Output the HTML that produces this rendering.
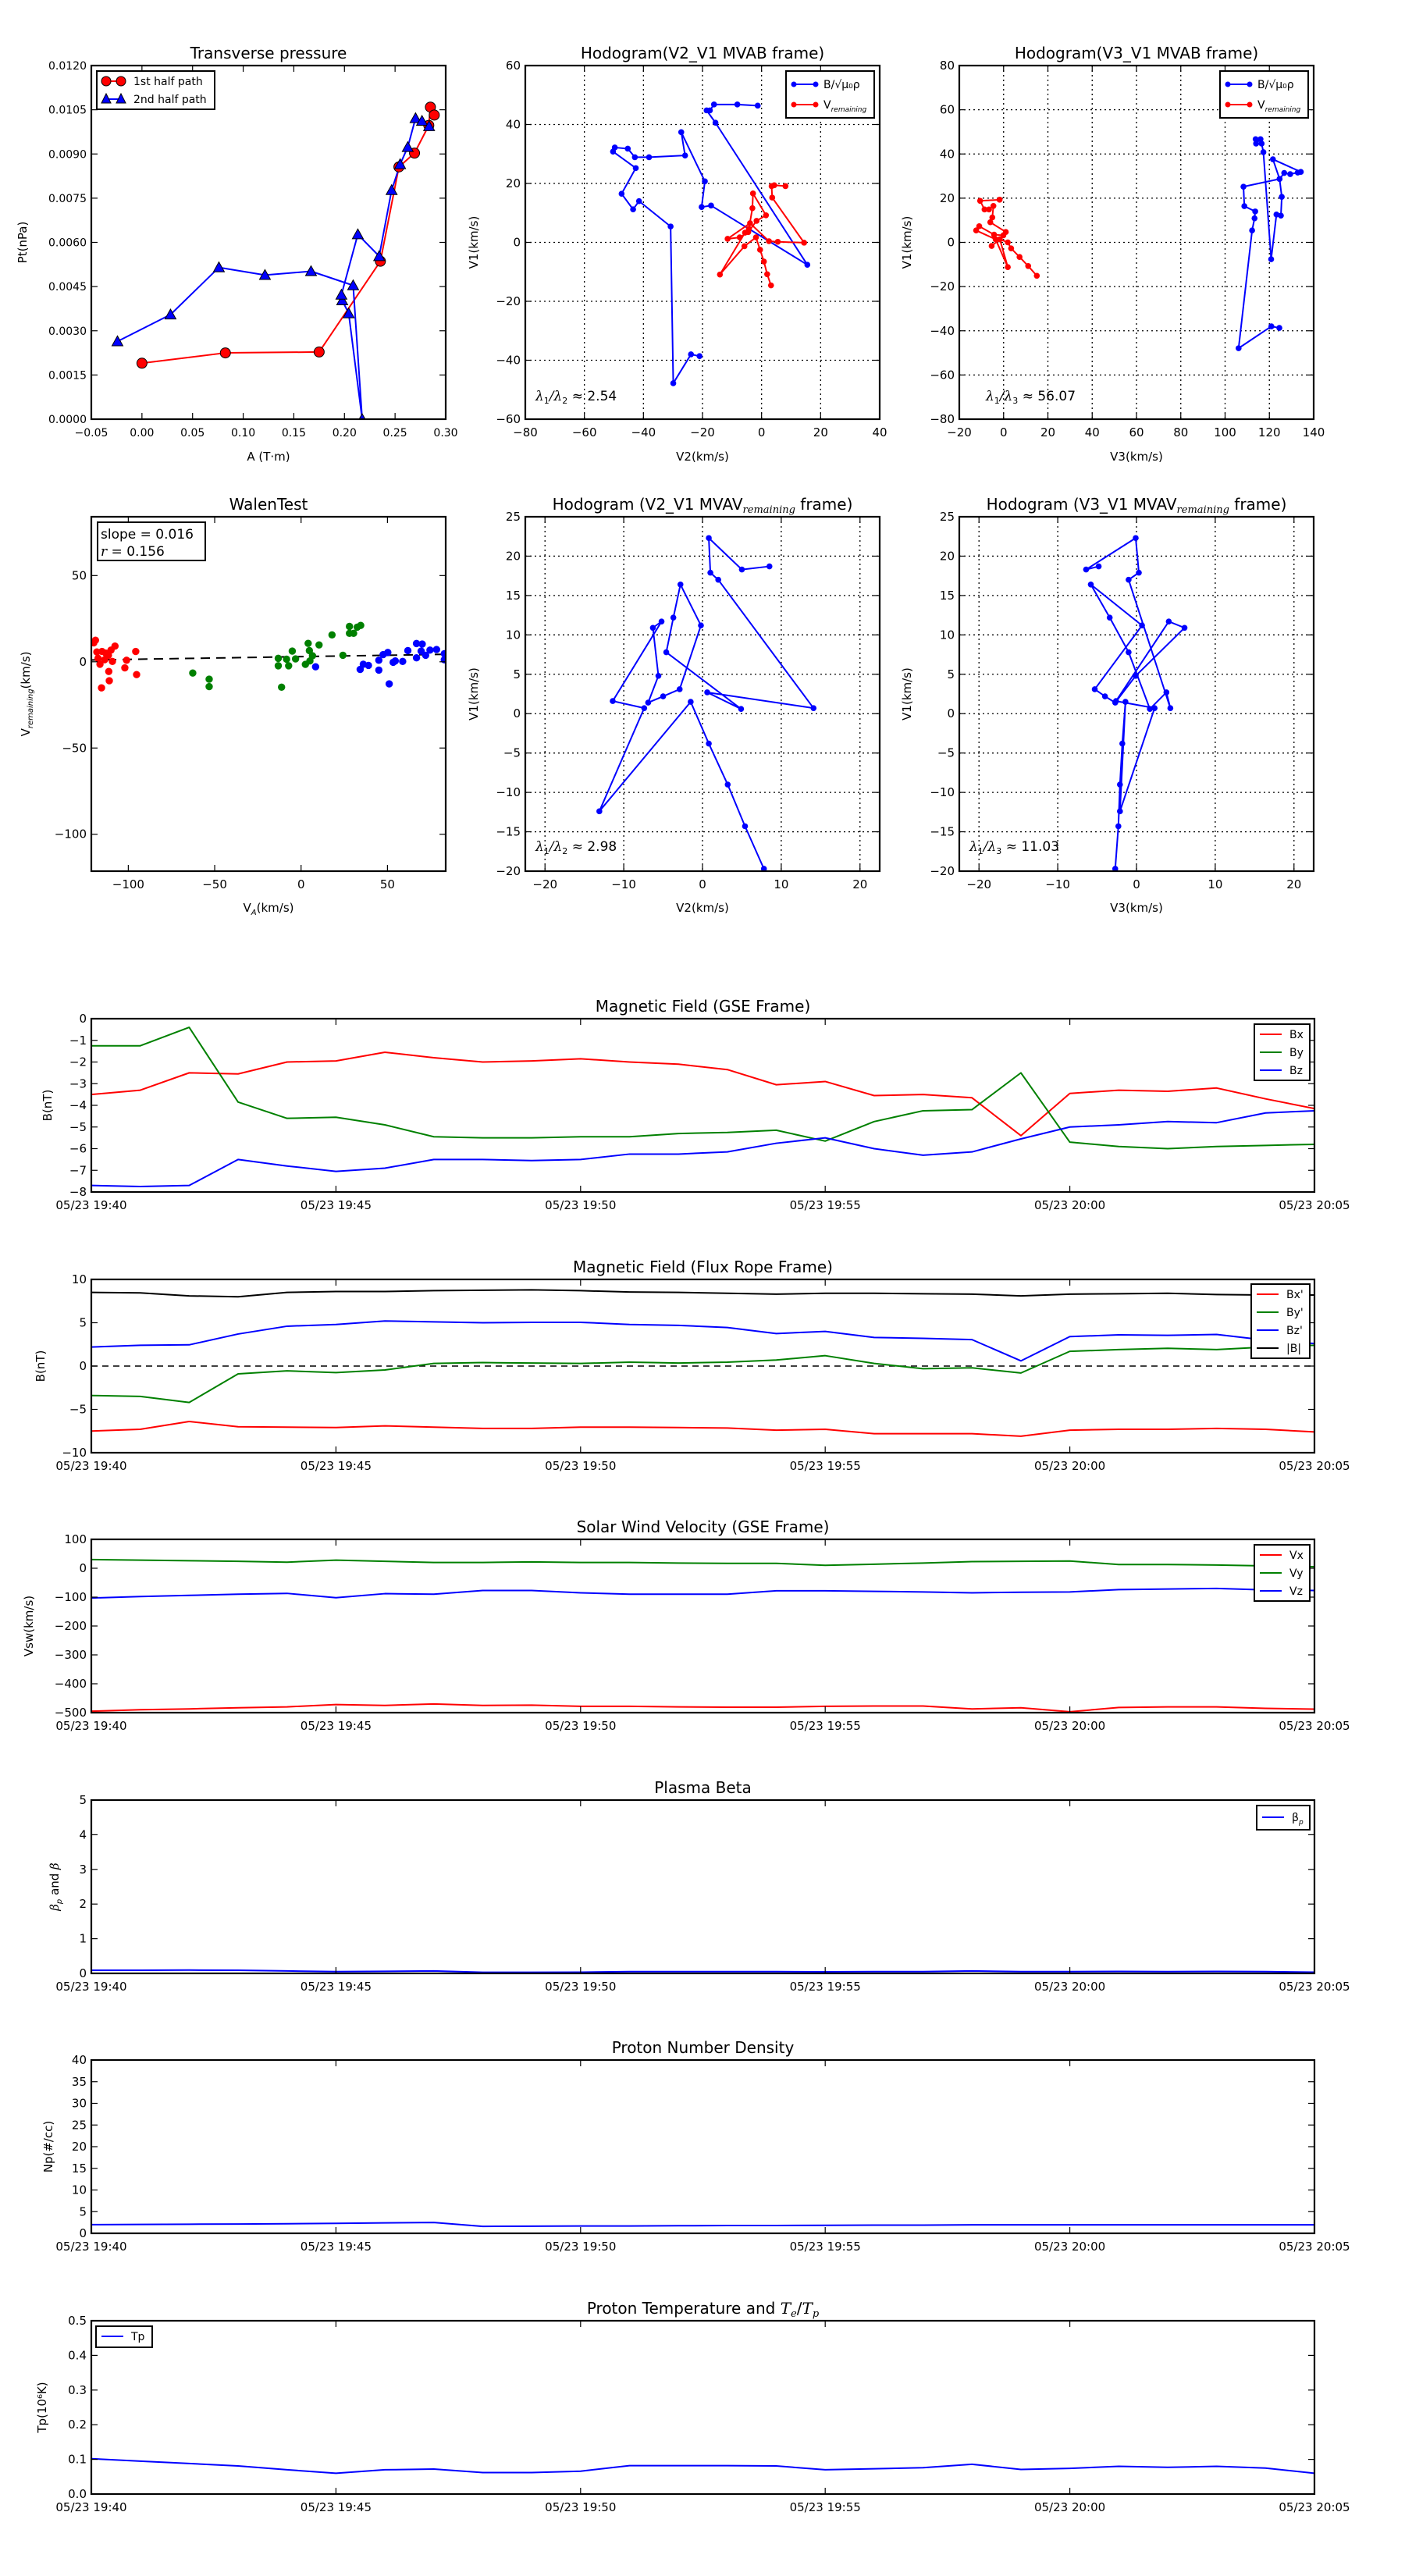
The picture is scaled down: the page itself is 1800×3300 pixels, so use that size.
<!DOCTYPE html>
<html><head><meta charset="utf-8"><title>Flux rope analysis</title>
<style>
html,body{margin:0;padding:0;background:#fff;}
svg{display:block;font-family:"DejaVu Sans","Liberation Sans",sans-serif;}
</style></head>
<body>
<svg id="fig" width="1800" height="3300" viewBox="0 0 1800 3300" xmlns="http://www.w3.org/2000/svg">
<rect x="0" y="0" width="1800" height="3300" fill="#fff"/>
<defs id="defs"></defs>
</svg>
<script>
// ---------- data: Transverse pressure ----------
const ptRedA=[0,0.0824,0.175,0.2355,0.2538,0.2692,0.2833,0.2849,0.2887];
const ptRedP=[0.0019,0.00225,0.00228,0.00536,0.00856,0.00903,0.00997,0.01059,0.01032];
const ptBlueA=[-0.0242,0.0282,0.076,0.1215,0.167,0.2086,0.2175,0.2042,0.1978,0.197,0.2132,0.2343,0.2466,0.255,0.2625,0.2702,0.2766,0.2836];
const ptBlueP=[0.00264,0.00355,0.00515,0.00489,0.00502,0.00454,0,0.00359,0.00403,0.00422,0.00627,0.00553,0.00777,0.00865,0.00923,0.01021,0.01012,0.00994];
// ---------- data: Hodogram MVAB ----------
const h1BlueV2=[-1.3,-8.2,-16.1,-17.5,-18.6,-15.6,15.5,-17.1,-20.3,-19.2,-27.2,-25.9,-38.1,-42.9,-45.3,-49.7,-50.3,-42.6,-47.4,-43.5,-41.5,-30.8,-29.9,-23.9,-21.0];
const h1BlueV1=[46.4,46.8,46.8,44.8,44.8,40.6,-7.6,12.5,12.0,20.7,37.4,29.5,28.9,28.9,31.8,32.2,30.8,25.2,16.5,11.2,14.0,5.4,-47.8,-38.0,-38.6];
const h1RedV2=[8.1,4.3,3.4,3.6,14.4,5.5,2.5,-3.9,-11.5,-7.4,-4.5,-1.7,1.5,-2.9,-3.1,-4.3,-5.6,-14.1,-5.8,-1.9,-0.5,0.8,1.9,3.2];
const h1RedV1=[19.1,19.4,19.1,15.2,-0.1,0.2,0.4,6.5,1.2,1.7,3.5,7.3,9.2,16.6,11.6,4.6,3.3,-10.9,-1.3,1.7,-2.5,-6.5,-10.8,-14.6];
const h2BlueV3=[113.8,116.0,114.0,116.5,117.3,120.8,123.2,125.2,125.6,124.6,121.6,134.2,132.8,129.4,126.7,124.6,108.3,108.7,113.6,113.3,112.2,106.1,120.9,124.5];
const h2BlueV1=[46.7,46.7,44.7,44.7,40.8,-7.6,12.6,12.1,20.6,28.7,37.6,31.9,31.6,30.9,31.4,28.7,25.2,16.4,14.0,10.9,5.4,-47.9,-38.0,-38.7];
const h2RedV3=[-1.8,-10.6,-8.6,-6.6,-4.6,-5.1,-6.0,1.0,-0.1,-4.3,-11.0,-12.4,-3.6,1.9,-1.7,-5.4,-1.7,1.9,3.4,7.2,11.1,15.0];
const h2RedV1=[19.3,18.8,14.9,14.9,16.5,11.3,9.1,4.7,3.2,3.5,7.3,5.4,1.4,-11.2,1.4,-1.6,1.4,0,-2.7,-6.6,-10.7,-15.1];
// ---------- data: Walen test ----------
const walenRedX=[-119,-120,-118.2,-115.2,-116.4,-113.7,-111.5,-110,-107.7,-109.2,-111.3,-111,-115.5,-101,-102,-95.7,-95.2,-113,-117.5];
const walenRedY=[12.5,11,5.7,6,-1.4,1.2,3.8,6.8,9.1,0.2,-5.6,-11,-15.1,0.9,-3.5,6,-7.4,5,2];
const walenGreenX=[-62.7,-53.2,-53.2,-11.3,-13.2,-13.2,-7.2,-5.1,-3.2,-8.4,2.5,4.1,4.8,6.6,10.4,17.9,24.2,28,28,30.4,32.5,34.5,5.1];
const walenGreenY=[-6.5,-10.1,-14.4,-14.7,2,-2.3,-2.3,6.2,1.7,1.5,-1.5,10.7,6.5,3.5,9.8,15.6,3.8,20.5,16.5,16.5,20.1,21.1,0.5];
const walenBlueX=[8.4,34.2,36,39,45,45,47.5,50.2,51,53.3,54.5,58.8,61.8,66.8,70.1,66.8,69.5,72.1,74.6,78.4,82.9,82.9];
const walenBlueY=[-2.9,-4.4,-1.4,-2.1,0.9,-4.8,4.2,5.4,-12.8,-0.3,0.5,0.2,6.5,10.6,10.3,2.3,6.2,3.8,6.8,7.1,4.7,1.2];
const walenSlope=0.016;
const walenIntercept=3.0;
// ---------- data: Hodogram MVAV ----------
const h3V1=[18.7,18.3,22.3,17.9,17.0,0.7,2.7,0.6,7.8,12.2,16.4,11.2,3.1,2.2,1.4,4.8,10.9,11.7,1.6,0.7,-12.4,1.5,-3.8,-9.0,-14.3,-19.7];
const h3V2=[8.5,5.0,0.8,1.0,2.0,14.1,0.6,4.9,-4.6,-3.7,-2.8,-0.2,-2.9,-5.0,-6.9,-5.6,-6.3,-5.2,-11.4,-7.4,-13.1,-1.5,0.8,3.2,5.4,7.8];
const h3V3=[-4.8,-6.4,-0.1,0.3,-1.0,4.3,3.8,1.7,-1.0,-3.4,-5.8,0.7,-5.3,-4.0,-2.7,-0.1,6.1,4.1,-2.6,2.3,-2.1,-1.4,-1.8,-2.1,-2.3,-2.7];
// ---------- data: time series (minutes after 19:40) ----------
const minutes=[0,1,2,3,4,5,6,7,8,9,10,11,12,13,14,15,16,17,18,19,20,21,22,23,24,25];
const timeTickMin=[0,5,10,15,20,25];
const timeTickLabels=["05/23 19:40","05/23 19:45","05/23 19:50","05/23 19:55","05/23 20:00","05/23 20:05"];
const gseBx=[-3.5,-3.3,-2.5,-2.55,-2.0,-1.95,-1.55,-1.8,-2.0,-1.95,-1.85,-2.0,-2.1,-2.35,-3.05,-2.9,-3.55,-3.5,-3.65,-5.4,-3.45,-3.3,-3.35,-3.2,-3.7,-4.15];
const gseBy=[-1.25,-1.25,-0.4,-3.85,-4.6,-4.55,-4.9,-5.45,-5.5,-5.5,-5.45,-5.45,-5.3,-5.25,-5.15,-5.65,-4.75,-4.25,-4.2,-2.5,-5.7,-5.9,-6.0,-5.9,-5.85,-5.8];
const gseBz=[-7.7,-7.75,-7.7,-6.5,-6.8,-7.05,-6.9,-6.5,-6.5,-6.55,-6.5,-6.25,-6.25,-6.15,-5.75,-5.5,-6.0,-6.3,-6.15,-5.55,-5.0,-4.9,-4.75,-4.8,-4.35,-4.25];
const frBx=[-7.5,-7.3,-6.4,-7.0,-7.05,-7.1,-6.9,-7.05,-7.2,-7.2,-7.05,-7.05,-7.1,-7.15,-7.4,-7.3,-7.8,-7.8,-7.8,-8.1,-7.4,-7.3,-7.3,-7.2,-7.3,-7.6];
const frBy=[-3.4,-3.5,-4.2,-0.9,-0.55,-0.75,-0.45,0.3,0.4,0.35,0.3,0.45,0.35,0.45,0.7,1.2,0.3,-0.3,-0.2,-0.8,1.7,1.9,2.05,1.9,2.2,2.4];
const frBz=[2.2,2.4,2.45,3.7,4.6,4.8,5.2,5.1,5.0,5.05,5.05,4.8,4.7,4.45,3.75,4.0,3.3,3.2,3.05,0.6,3.4,3.6,3.55,3.65,3.0,2.6];
const frBt=[8.5,8.45,8.1,8.0,8.5,8.6,8.6,8.7,8.75,8.8,8.7,8.55,8.5,8.4,8.3,8.4,8.4,8.35,8.3,8.1,8.3,8.35,8.4,8.25,8.2,8.2];
const vswVx=[-495,-490,-487,-483,-480,-472,-475,-470,-475,-474,-478,-478,-480,-481,-481,-478,-477,-477,-487,-483,-497,-482,-480,-480,-485,-488];
const vswVy=[30,28,26,24,21,28,24,20,20,22,20,20,18,17,17,10,14,18,23,24,25,13,13,11,8,5];
const vswVz=[-103,-98,-94,-90,-87,-102,-88,-90,-77,-77,-85,-90,-90,-90,-78,-78,-80,-82,-85,-83,-82,-74,-72,-70,-75,-77];
const betaP=[0.09,0.09,0.095,0.09,0.07,0.05,0.06,0.07,0.03,0.03,0.035,0.05,0.05,0.05,0.05,0.045,0.05,0.05,0.07,0.05,0.05,0.055,0.05,0.055,0.05,0.035];
const densNp=[2.0,2.05,2.1,2.15,2.2,2.3,2.4,2.5,1.6,1.65,1.7,1.7,1.75,1.8,1.8,1.85,1.9,1.9,1.95,1.95,1.95,1.95,1.95,1.95,1.95,1.95];
const tempTp=[0.102,0.095,0.088,0.081,0.07,0.06,0.07,0.072,0.062,0.062,0.066,0.082,0.082,0.082,0.081,0.07,0.073,0.076,0.086,0.071,0.074,0.08,0.077,0.08,0.075,0.06];

// ---------- helpers ----------
const NS='http://www.w3.org/2000/svg';
const svg=document.getElementById('fig');
const defs=document.getElementById('defs');
function mk(tag,attrs,parent){const e=document.createElementNS(NS,tag);for(const k in attrs)e.setAttribute(k,attrs[k]);(parent||svg).appendChild(e);return e;}
function fmt(s){return String(s).replace(/-/g,'\u2212');}
function txt(parent,x,y,s,size,anchor,extra){const t=mk('text',Object.assign({x:x,y:y,'font-size':size,'text-anchor':anchor||'middle',fill:'#000'},extra||{}),parent);t.textContent=s;return t;}
function seq(a,b,st){const r=[];for(let v=a;v<=b+1e-9;v+=st)r.push(+v.toFixed(6));return r;}

function makeAxes(o){
  const A=Object.assign({},o);
  A.sx=v=>o.x+(v-o.xmin)/(o.xmax-o.xmin)*o.w;
  A.sy=v=>o.y+o.h-(v-o.ymin)/(o.ymax-o.ymin)*o.h;
  A.g=mk('g',{});
  
  
  mk('rect',{x:o.x,y:o.y,width:o.w,height:o.h,fill:'#fff'},A.g);
  if(o.grid){
    const gg=mk('g',{stroke:'#000','stroke-width':1.3,'stroke-dasharray':'2,4'},A.g);
    
    
    o.xticks.forEach(v=>{const X=A.sx(v);mk('line',{x1:X,x2:X,y1:o.y,y2:o.y+o.h},gg);});
    o.yticks.forEach(v=>{const Y=A.sy(v);mk('line',{x1:o.x,x2:o.x+o.w,y1:Y,y2:Y},gg);});
  }
  const cp=mk('clipPath',{id:'clip-'+o.name},defs);
  mk('rect',{x:o.x,y:o.y,width:o.w,height:o.h},cp);
  A.data=mk('g',{'clip-path':'url(#clip-'+o.name+')'},A.g);
  return A;
}
function finishAxes(A){
  const g=mk('g',{},A.g);
  mk('rect',{x:A.x,y:A.y,width:A.w,height:A.h,fill:'none',stroke:'#000','stroke-width':2.2},g);
  const tl=8;
  const tk=mk('g',{stroke:'#000','stroke-width':1.2},g);
  A.xticks.forEach(v=>{const X=A.sx(v);mk('line',{x1:X,x2:X,y1:A.y+A.h,y2:A.y+A.h-tl},tk);mk('line',{x1:X,x2:X,y1:A.y,y2:A.y+tl},tk);});
  A.yticks.forEach(v=>{const Y=A.sy(v);mk('line',{x1:A.x,x2:A.x+tl,y1:Y,y2:Y},tk);mk('line',{x1:A.x+A.w,x2:A.x+A.w-tl,y1:Y,y2:Y},tk);});
  A.xticks.forEach((v,i)=>{const t=txt(g,A.sx(v),A.y+A.h+22,fmt(A.xlabels[i]),A.tfs||15,'middle');
    
    });
  A.yticks.forEach((v,i)=>{const t=txt(g,A.x-6,A.sy(v)+5,fmt(A.ylabels[i]),A.tfs||15,'end');
    
    });
  return g;
}
function title(A,parts,dy){
  const t=mk('text',{x:A.x+A.w/2,y:A.y-(dy||9),'font-size':20,'text-anchor':'middle'},A.g);
  
  
  parts.forEach(p=>{const s=mk('tspan',p.it?{'font-style':'italic','font-family':'"DejaVu Serif","Liberation Serif",serif','font-size':p.sub?13:20,dy:p.dy||0}:{dy:p.dy||0},t);s.textContent=p.s;});
  return t;
}
function xlabel(A,parts,y){
  const t=mk('text',{x:A.x+A.w/2,y:y,'font-size':15,'text-anchor':'middle'},A.g);
  
  
  parts.forEach(p=>{const s=mk('tspan',p.sub?{'font-size':10,'font-style':'italic',dy:p.dy||0}:{dy:p.dy||0},t);s.textContent=p.s;});
}
function ylabel(A,parts,x){
  const cy=A.y+A.h/2;
  const t=mk('text',{x:x,y:cy,'font-size':15,'text-anchor':'middle',transform:'rotate(-90 '+x+' '+cy+')'},A.g);
  
  
  parts.forEach(p=>{const s=mk('tspan',p.sub?{'font-size':10,'font-style':'italic',dy:p.dy||0}:(p.it?{'font-style':'italic','font-family':'"DejaVu Serif",serif',dy:p.dy||0}:{dy:p.dy||0}),t);s.textContent=p.s;});
}
function polyline(A,xs,ys,color,w,name){
  let d='';xs.forEach((v,i)=>{d+=(i?'L':'M')+A.sx(v).toFixed(2)+','+A.sy(ys[i]).toFixed(2);});
  const p=mk('path',{d:d,fill:'none',stroke:color,'stroke-width':w||2,'stroke-linejoin':'round'},A.data);
  
  
  return p;
}
function dots(A,xs,ys,color,r,stroke,name){
  const g=mk('g',{},A.data);
  
  
  xs.forEach((v,i)=>{const c=mk('circle',{cx:A.sx(v),cy:A.sy(ys[i]),r:r,fill:color,stroke:stroke||'none','stroke-width':1},g);
    
    });
}
function tris(A,xs,ys,color,s,name){
  const g=mk('g',{},A.data);
  
  
  xs.forEach((v,i)=>{const X=A.sx(v),Y=A.sy(ys[i]);
    const p=mk('polygon',{points:`${X},${Y-s} ${X-s},${Y+s*0.8} ${X+s},${Y+s*0.8}`,fill:color,stroke:'#000','stroke-width':1},g);
    
    });
}
function legendBox(parent,x,y,w,h,name){
  const g=mk('g',{},parent);
  
  
  mk('rect',{x:x,y:y,width:w,height:h,fill:'#fff',stroke:'#000','stroke-width':2},g);
  return g;
}
function legEntry(g,x,y,color,label,marker){
  const e=mk('g',{},g);
  
  
  mk('line',{x1:x,x2:x+28,y1:y,y2:y,stroke:color,'stroke-width':2},e);
  if(marker==='dot'){mk('circle',{cx:x,cy:y,r:3.5,fill:color},e);mk('circle',{cx:x+28,cy:y,r:3.5,fill:color},e);}
  const t=mk('text',{x:x+38,y:y+5,'font-size':14},e);
  label.forEach(p=>{const s=mk('tspan',p.sub?{'font-size':9,'font-style':'italic',dy:p.dy||0}:{dy:p.dy||0},t);s.textContent=p.s;});
  return e;
}

// ---------- Panel 1: Transverse pressure ----------
(function(){
  const xt=seq(-0.05,0.30,0.05), yt=seq(0,0.012,0.0015);
  const A=makeAxes({name:'transverse-pressure-chart',x:117,y:84,w:454,h:453,xmin:-0.05,xmax:0.30,ymin:0,ymax:0.012,
    xticks:xt,yticks:yt,xlabels:xt.map(v=>v.toFixed(2)),ylabels:yt.map(v=>v.toFixed(4)),grid:false,tfs:14});
  polyline(A,ptRedA,ptRedP,'#ff0000',2,'first-half-path-line');
  polyline(A,ptBlueA,ptBlueP,'#0000ff',2,'second-half-path-line');
  dots(A,ptRedA,ptRedP,'#ff0000',6.5,'#000','first-half-path-markers');
  tris(A,ptBlueA,ptBlueP,'#0000ff',7,'second-half-path-markers');
  finishAxes(A);
  title(A,[{s:'Transverse pressure'}]);
  xlabel(A,[{s:'A (T\u00b7m)'}],590);
  ylabel(A,[{s:'Pt(nPa)'}],34);
  const lg=legendBox(A.g,124,91,151,49,'pressure-legend');
  const e1=mk('g',{},lg);
  
  
  mk('line',{x1:136,x2:155,y1:104,y2:104,stroke:'#f00','stroke-width':2},e1);
  mk('circle',{cx:136,cy:104,r:6,fill:'#f00',stroke:'#000'},e1);mk('circle',{cx:155,cy:104,r:6,fill:'#f00',stroke:'#000'},e1);
  txt(e1,171,109,'1st half path',14,'start');
  const e2=mk('g',{},lg);
  
  
  mk('line',{x1:136,x2:155,y1:127,y2:127,stroke:'#00f','stroke-width':2},e2);
  [136,155].forEach(X=>mk('polygon',{points:`${X},${120} ${X-6},${132} ${X+6},${132}`,fill:'#00f',stroke:'#000'},e2));
  txt(e2,171,132,'2nd half path',14,'start');
})();

// ---------- hodogram helper ----------
function hodoLegend(A,x,y){
  const lg=legendBox(A.g,x,y,113,60,'hodogram-legend');
  legEntry(lg,x+10,y+17,'#0000ff',[{s:'B/\u221A'},{s:'\u03bc\u2080\u03c1',sub:false}],'dot');
  legEntry(lg,x+10,y+43,'#ff0000',[{s:'V'},{s:'remaining',sub:true,dy:4}],'dot');
}
function lambdaText(A,x,y,sub,val){
  const t=mk('text',{x:x,y:y,'font-size':17},A.g);
  
  
  const a=mk('tspan',{'font-style':'italic','font-family':'"DejaVu Serif",serif'},t);a.textContent='\u03bb';
  const b=mk('tspan',{'font-size':11,dy:4},t);b.textContent='1';
  const c=mk('tspan',{dy:-4,'font-style':'italic','font-family':'"DejaVu Serif",serif'},t);c.textContent='/\u03bb';
  const d=mk('tspan',{'font-size':11,dy:4},t);d.textContent=sub;
  const e=mk('tspan',{dy:-4},t);e.textContent=' \u2248 '+val;
}

// ---------- Panel 2: Hodogram V2_V1 MVAB ----------
(function(){
  const xt=seq(-80,40,20), yt=seq(-60,60,20);
  const A=makeAxes({name:'hodogram-v2-v1-mvab',x:673,y:84,w:454,h:453,xmin:-80,xmax:40,ymin:-60,ymax:60,
    xticks:xt,yticks:yt,xlabels:xt,ylabels:yt,grid:true});
  polyline(A,h1BlueV2,h1BlueV1,'#0000ff',2,'b-field-path');
  dots(A,h1BlueV2,h1BlueV1,'#0000ff',3.8,null,'b-field-markers');
  polyline(A,h1RedV2,h1RedV1,'#ff0000',2,'v-remaining-path');
  dots(A,h1RedV2,h1RedV1,'#ff0000',3.8,null,'v-remaining-markers');
  finishAxes(A);
  title(A,[{s:'Hodogram(V2_V1 MVAB frame)'}]);
  xlabel(A,[{s:'V2(km/s)'}],590);
  ylabel(A,[{s:'V1(km/s)'}],612);
  hodoLegend(A,1007,91);
  lambdaText(A,686,513,'2','2.54');
})();

// ---------- Panel 3: Hodogram V3_V1 MVAB ----------
(function(){
  const xt=seq(-20,140,20), yt=seq(-80,80,20);
  const A=makeAxes({name:'hodogram-v3-v1-mvab',x:1229,y:84,w:454,h:453,xmin:-20,xmax:140,ymin:-80,ymax:80,
    xticks:xt,yticks:yt,xlabels:xt,ylabels:yt,grid:true});
  polyline(A,h2BlueV3,h2BlueV1,'#0000ff',2,'b-field-path');
  dots(A,h2BlueV3,h2BlueV1,'#0000ff',3.8,null,'b-field-markers');
  polyline(A,h2RedV3,h2RedV1,'#ff0000',2,'v-remaining-path');
  dots(A,h2RedV3,h2RedV1,'#ff0000',3.8,null,'v-remaining-markers');
  finishAxes(A);
  title(A,[{s:'Hodogram(V3_V1 MVAB frame)'}]);
  xlabel(A,[{s:'V3(km/s)'}],590);
  ylabel(A,[{s:'V1(km/s)'}],1167);
  hodoLegend(A,1563,91);
  lambdaText(A,1263,513,'3','56.07');
})();

// ---------- Panel 4: Walen test ----------
(function(){
  const xt=[-100,-50,0,50], yt=[-100,-50,0,50];
  const A=makeAxes({name:'walen-test-chart',x:117,y:662,w:454,h:454,xmin:-121.4,xmax:83.7,ymin:-121.4,ymax:84.1,
    xticks:xt,yticks:yt,xlabels:xt,ylabels:yt,grid:false});
  const fx=[A.xmin,A.xmax];
  const fy=fx.map(v=>walenSlope*v+walenIntercept);
  const fl=polyline(A,fx,fy,'#000',2,'walen-fit-line');
  fl.setAttribute('stroke-dasharray','12,8');
  dots(A,walenRedX,walenRedY,'#ff0000',4.7,null,'walen-points-red');
  dots(A,walenGreenX,walenGreenY,'#008000',4.7,null,'walen-points-green');
  dots(A,walenBlueX,walenBlueY,'#0000ff',4.7,null,'walen-points-blue');
  finishAxes(A);
  title(A,[{s:'WalenTest'}]);
  xlabel(A,[{s:'V'},{s:'A',sub:true,dy:4},{s:'(km/s)',dy:-4}],1168);
  ylabel(A,[{s:'V'},{s:'remaining',sub:true,dy:4},{s:'(km/s)',dy:-4}],38);
  const lg=legendBox(A.g,125,669,138,49,'walen-stats-box');
  txt(lg,129,690,'slope = '+walenSlope.toFixed(3),17,'start');
  const t=mk('text',{x:129,y:712,'font-size':17},lg);
  const a=mk('tspan',{'font-style':'italic','font-family':'"DejaVu Serif",serif'},t);a.textContent='r';
  const b=mk('tspan',{},t);b.textContent=' = 0.156';
})();

// ---------- Panels 5 & 6: Hodogram MVAV ----------
function mvav(name,x,V,lab,sub,val,ylx){
  const xt=[-20,-10,0,10,20], yt=seq(-20,25,5);
  const A=makeAxes({name:name,x:x,y:662,w:454,h:454,xmin:-22.5,xmax:22.5,ymin:-20,ymax:25,
    xticks:xt,yticks:yt,xlabels:xt,ylabels:yt,grid:true});
  polyline(A,V,h3V1,'#0000ff',2,'b-field-path');
  dots(A,V,h3V1,'#0000ff',3.8,null,'b-field-markers');
  finishAxes(A);
  title(A,[{s:'Hodogram ('+lab+'_V1 MVAV'},{s:'remaining',it:true,sub:true,dy:4},{s:' frame)',dy:-4}]);
  xlabel(A,[{s:lab+'(km/s)'}],1168);
  ylabel(A,[{s:'V1(km/s)'}],ylx);
  lambdaText(A,x+13,1090,sub,val);
}
mvav('hodogram-v2-v1-mvav',673,h3V2,'V2','2','2.98',612);
mvav('hodogram-v3-v1-mvav',1229,h3V3,'V3','3','11.03',1167);

// ---------- time series ----------
function timePanel(o){
  const A=makeAxes({name:o.name,x:117,y:o.y,w:1567,h:222,xmin:0,xmax:25,ymin:o.ymin,ymax:o.ymax,
    xticks:timeTickMin,yticks:o.yticks,xlabels:timeTickLabels,ylabels:o.ylabels,grid:false});
  if(o.zero){const z=polyline(A,[0,25],[0,0],'#000',1.5,'zero-line');z.setAttribute('stroke-dasharray','8,6');}
  o.series.forEach(s=>polyline(A,minutes,s.d,s.c,2,s.n));
  finishAxes(A);
  title(A,o.title);
  ylabel(A,o.ylab,o.ylx);
  return A;
}
function tsLegend(A,x,y,w,entries){
  const h=entries.length*34+8;
  const lg=legendBox(A.g,x,y,w,h,'series-legend');
  entries.forEach((e,i)=>legEntry(lg,x+10,y+21+i*34,e.c,e.l));
}
(function(){
  const A=timePanel({name:'magnetic-field-gse-chart',y:1305,ymin:-8,ymax:0,yticks:seq(-8,0,1),ylabels:seq(-8,0,1),
    series:[{d:gseBx,c:'#ff0000',n:'bx-line'},{d:gseBy,c:'#008000',n:'by-line'},{d:gseBz,c:'#0000ff',n:'bz-line'}],
    title:[{s:'Magnetic Field (GSE Frame)'}],ylab:[{s:'B(nT)'}],ylx:66});
  const lg=legendBox(A.g,1607,1312,71,72,'series-legend');
  [['#ff0000','Bx'],['#008000','By'],['#0000ff','Bz']].forEach((e,i)=>{const g=legEntry(lg,1614,1325+i*23,e[0],[{s:e[1]}]);});
})();
(function(){
  const A=timePanel({name:'magnetic-field-flux-rope-chart',y:1639,ymin:-10,ymax:10,yticks:[-10,-5,0,5,10],ylabels:[-10,-5,0,5,10],zero:true,
    series:[{d:frBt,c:'#000000',n:'b-magnitude-line'},{d:frBz,c:'#0000ff',n:'bz-prime-line'},{d:frBy,c:'#008000',n:'by-prime-line'},{d:frBx,c:'#ff0000',n:'bx-prime-line'}],
    title:[{s:'Magnetic Field (Flux Rope Frame)'}],ylab:[{s:'B(nT)'}],ylx:57});
  const lg=legendBox(A.g,1603,1645,75,95,'series-legend');
  [['#ff0000',"Bx'"],['#008000',"By'"],['#0000ff',"Bz'"],['#000000','|B|']].forEach((e,i)=>{legEntry(lg,1610,1658+i*23,e[0],[{s:e[1]}]);});
})();
(function(){
  const yt=seq(-500,100,100);
  const A=timePanel({name:'solar-wind-velocity-chart',y:1972,ymin:-500,ymax:100,yticks:yt,ylabels:yt,
    series:[{d:vswVx,c:'#ff0000',n:'vx-line'},{d:vswVy,c:'#008000',n:'vy-line'},{d:vswVz,c:'#0000ff',n:'vz-line'}],
    title:[{s:'Solar Wind Velocity (GSE Frame)'}],ylab:[{s:'Vsw(km/s)'}],ylx:42});
  const lg=legendBox(A.g,1607,1979,71,72,'series-legend');
  [['#ff0000','Vx'],['#008000','Vy'],['#0000ff','Vz']].forEach((e,i)=>{legEntry(lg,1614,1992+i*23,e[0],[{s:e[1]}]);});
})();
(function(){
  const yt=seq(0,5,1);
  const A=timePanel({name:'plasma-beta-chart',y:2306,ymin:0,ymax:5,yticks:yt,ylabels:yt,
    series:[{d:betaP,c:'#0000ff',n:'beta-p-line'}],
    title:[{s:'Plasma Beta'}],ylab:[{s:'\u03b2',it:true},{s:'p',sub:true,dy:4},{s:' and ',dy:-4},{s:'\u03b2',it:true}],ylx:75});
  const lg=legendBox(A.g,1610,2313,68,31,'series-legend');
  const e=legEntry(lg,1617,2328,'#0000ff',[{s:'\u03b2'},{s:'p',sub:true,dy:4}]);
})();
(function(){
  const yt=seq(0,40,5);
  timePanel({name:'proton-density-chart',y:2639,ymin:0,ymax:40,yticks:yt,ylabels:yt,
    series:[{d:densNp,c:'#0000ff',n:'np-line'}],
    title:[{s:'Proton Number Density'}],ylab:[{s:'Np(#/cc)'}],ylx:67});
})();
(function(){
  const yt=seq(0,0.5,0.1);
  const A=timePanel({name:'proton-temperature-chart',y:2973,ymin:0,ymax:0.5,yticks:yt,ylabels:yt.map(v=>v.toFixed(1)),
    series:[{d:tempTp,c:'#0000ff',n:'tp-line'}],
    title:[{s:'Proton Temperature and '},{s:'T',it:true},{s:'e',it:true,sub:true,dy:4},{s:'/',dy:-4},{s:'T',it:true},{s:'p',it:true,sub:true,dy:4}],
    ylab:[{s:'Tp('},{s:'10\u2076K',sub:false},{s:')'}],ylx:59});
  const lg=legendBox(A.g,123,2980,72,27,'series-legend');
  legEntry(lg,130,2993,'#0000ff',[{s:'Tp'}]);
})();
</script>
</body></html>
